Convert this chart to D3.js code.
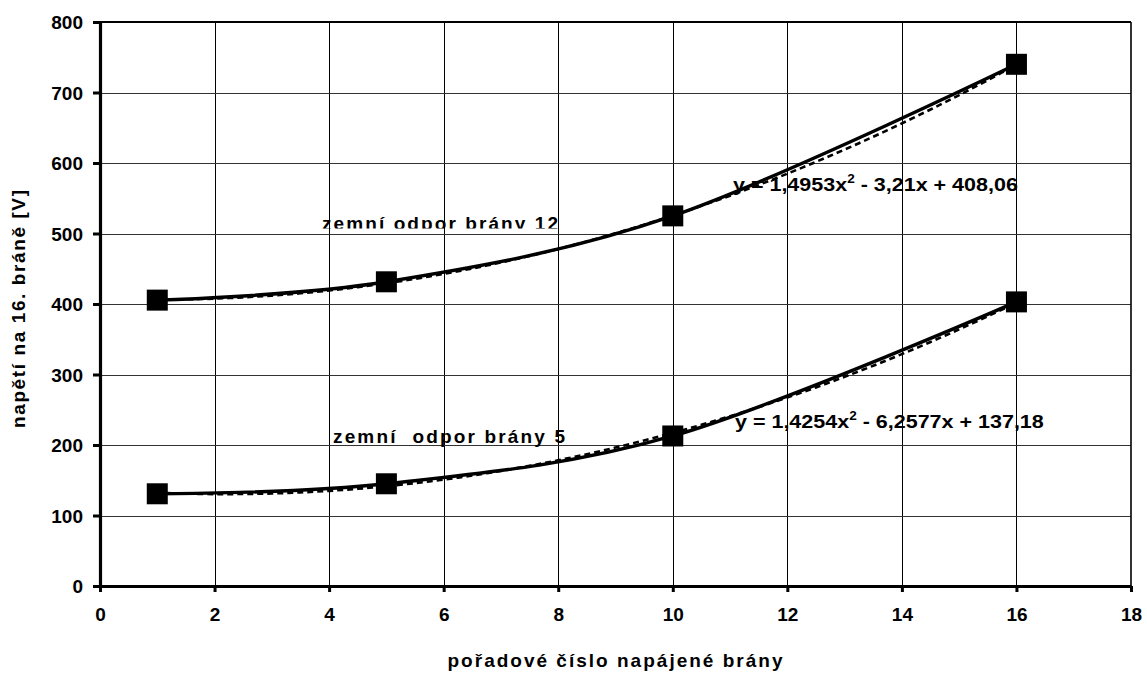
<!DOCTYPE html>
<html>
<head>
<meta charset="utf-8">
<script src="https://cdn.jsdelivr.net/npm/d3@7"></script>
<style>
  html, body { margin: 0; padding: 0; background: #fff; }
  svg { display: block; }
  text { font-family: "Liberation Sans", Arial, sans-serif; font-weight: bold; fill: #000; }
</style>
</head>
<body>
<svg id="chart" width="1147" height="673"></svg>
<script>
// Gate numbers that were fed, and measured voltage at gate 16
const gates = [1, 5, 10, 16];
const voltsGate12 = [405.5, 431.5, 525, 740];
const voltsGate5 = [130.8, 145, 212.8, 403];

// Polynomial trend coefficients [a, b, c] for y = a·x² + b·x + c
const trendGate12 = [1.4953, -3.21, 408.06];
const trendGate5 = [1.4254, -6.2577, 137.18];

const xTicks = [0, 2, 4, 6, 8, 10, 12, 14, 16, 18];
const yTicks = [0, 100, 200, 300, 400, 500, 600, 700, 800];

const seriesLabels = ["zemní odpor brány 12", "zemní  odpor brány 5"];
const xTitle = "pořadové číslo napájené brány";
const yTitle = "napětí na 16. bráně [V]";

const svg = d3.select("#chart");
const plotLeft = 100, plotRight = 1131, plotTop = 22, plotBottom = 586;

const x = d3.scaleLinear().domain([0, 18]).range([plotLeft, plotRight]);
const y = d3.scaleLinear().domain([0, 800]).range([plotBottom, plotTop]);

// grid
const grid = svg.append("g").attr("shape-rendering", "crispEdges");
grid.selectAll(".gx").data(xTicks.slice(1, -1)).join("line")
  .attr("x1", d => Math.round(x(d)) + 0.5).attr("x2", d => Math.round(x(d)) + 0.5)
  .attr("y1", plotTop).attr("y2", plotBottom)
  .attr("stroke", "#000").attr("stroke-width", 1);
grid.selectAll(".gy").data(yTicks.slice(1, -1)).join("line")
  .attr("x1", plotLeft).attr("x2", plotRight)
  .attr("y1", d => Math.round(y(d)) + 0.5).attr("y2", d => Math.round(y(d)) + 0.5)
  .attr("stroke", "#333").attr("stroke-width", 1);

// frame: top and right thin, left and bottom axes heavy
svg.append("line").attr("x1", plotLeft).attr("x2", plotRight).attr("y1", plotTop).attr("y2", plotTop)
  .attr("stroke", "#000").attr("stroke-width", 2);
svg.append("line").attr("x1", plotRight).attr("x2", plotRight).attr("y1", plotTop).attr("y2", plotBottom)
  .attr("stroke", "#000").attr("stroke-width", 1.6);

// axes
const xAxis = svg.append("g").attr("transform", `translate(0,${plotBottom})`)
  .call(d3.axisBottom(x).tickValues(xTicks).tickSize(6).tickSizeOuter(0).tickPadding(16));
const yAxis = svg.append("g").attr("transform", `translate(${plotLeft},0)`)
  .call(d3.axisLeft(y).tickValues(yTicks).tickSize(7).tickSizeOuter(0).tickPadding(10));
[xAxis, yAxis].forEach(g => {
  g.select(".domain").attr("stroke", "#000").attr("stroke-width", 3.2);
  g.selectAll(".tick line").attr("stroke", "#000").attr("stroke-width", 3);
  g.selectAll(".tick text").attr("font-size", 19)
    .attr("font-family", "'Liberation Sans', Arial, sans-serif").attr("font-weight", "bold").attr("fill", "#000");
});
xAxis.selectAll(".tick text").attr("dy", "0.71em");
yAxis.selectAll(".tick text").attr("dy", "0.36em");

// trend curves from the stated coefficients
function trendPoints(coef) {
  const pts = [];
  for (let g = gates[0]; g <= gates[gates.length - 1] + 1e-9; g += 0.25) {
    pts.push([g, coef[0] * g * g + coef[1] * g + coef[2]]);
  }
  return pts;
}
const trendLine = d3.line().x(d => x(d[0])).y(d => y(d[1])).curve(d3.curveLinear);
[trendGate12, trendGate5].forEach(coef => {
  svg.append("path").datum(trendPoints(coef))
    .attr("d", trendLine).attr("fill", "none")
    .attr("stroke", "#000").attr("stroke-width", 2.6)
    .attr("stroke-dasharray", "6,4");
});

// measured series, smoothed
const seriesLine = d3.line().x(d => x(d[0])).y(d => y(d[1])).curve(d3.curveCardinal.tension(0));
[voltsGate12, voltsGate5].forEach(vals => {
  const pts = gates.map((g, i) => [g, vals[i]]);
  svg.append("path").datum(pts).attr("d", seriesLine).attr("fill", "none")
    .attr("stroke", "#000").attr("stroke-width", 3.4).attr("stroke-linejoin", "round");
  svg.selectAll(null).data(pts).join("rect")
    .attr("x", d => x(d[0]) - 10.5).attr("y", d => y(d[1]) - 10.5)
    .attr("width", 21).attr("height", 21).attr("fill", "#000");
});

// series labels (upper one sits in a box cut off at its baseline)
svg.append("clipPath").attr("id", "labelClip")
  .append("rect").attr("x", 300).attr("y", 200).attr("width", 300).attr("height", 28.5);
svg.append("text").attr("x", 322).attr("y", 229.5).attr("font-size", 19)
  .attr("textLength", 236).attr("lengthAdjust", "spacing")
  .attr("clip-path", "url(#labelClip)")
  .style("white-space", "pre").text(seriesLabels[0]);
svg.append("text").attr("x", 333).attr("y", 442.5).attr("font-size", 19)
  .attr("textLength", 232).attr("lengthAdjust", "spacing")
  .style("white-space", "pre").text(seriesLabels[1]);

// trend equations
function fmt(v) { return String(Math.abs(v)).replace(".", ","); }
function equation(coef, px, py, len) {
  const t = svg.append("text").attr("x", px).attr("y", py).attr("font-size", 19)
    .style("white-space", "pre");
  t.append("tspan").text(`y = ${fmt(coef[0])}x`);
  t.append("tspan").attr("font-size", 12).attr("dy", -8).text("2");
  t.append("tspan").attr("dy", 8)
    .text(` ${coef[1] < 0 ? "-" : "+"} ${fmt(coef[1])}x ${coef[2] < 0 ? "-" : "+"} ${fmt(coef[2])}`);
  const w = t.node().getComputedTextLength();
  if (w > 0) t.attr("transform", `translate(${px},0) scale(${len / w},1) translate(${-px},0)`);
}
equation(trendGate12, 733, 191.5, 285);
equation(trendGate5, 735, 428.5, 309);

// axis titles
svg.append("text").attr("x", 615).attr("y", 667).attr("text-anchor", "middle")
  .attr("font-size", 19).attr("textLength", 335).attr("lengthAdjust", "spacing").text(xTitle);
svg.append("text").attr("transform", "translate(25,309) rotate(-90)")
  .attr("text-anchor", "middle").attr("font-size", 19)
  .attr("textLength", 238).attr("lengthAdjust", "spacing").text(yTitle);
</script>
</body>
</html>
